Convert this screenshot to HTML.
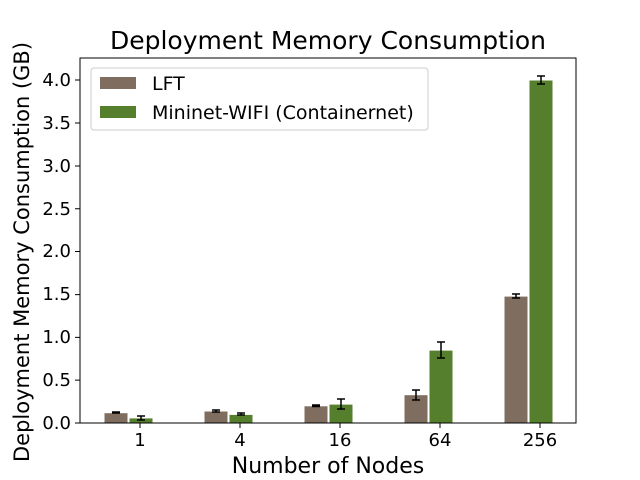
<!DOCTYPE html>
<html><head><style>body{margin:0;background:#fff}svg{display:block;font-family:"DejaVu Sans","Liberation Sans",sans-serif}</style></head><body>
<svg width="640" height="480" xmlns="http://www.w3.org/2000/svg">
<text x="328" y="49" font-size="25" text-anchor="middle">Deployment Memory Consumption</text>
<g fill="#7f6d5f" stroke="#fff" stroke-width="1">
<rect x="104" y="412.7" width="24" height="10.3"/>
<rect x="204" y="411" width="24" height="12"/>
<rect x="304" y="405.8" width="24" height="17.2"/>
<rect x="404" y="394.7" width="24" height="28.3"/>
<rect x="504" y="296.1" width="24" height="126.9"/>
</g>
<g fill="#557f2d" stroke="#fff" stroke-width="1">
<rect x="129" y="417.9" width="24" height="5.1"/>
<rect x="229" y="414.4" width="24" height="8.6"/>
<rect x="329" y="404.1" width="24" height="18.9"/>
<rect x="429" y="350.1" width="24" height="72.9"/>
<rect x="529" y="80" width="24" height="343"/>
</g>
<g stroke="#000" stroke-width="1.5" fill="none">
<path d="M116 412v1M112 412h8M112 413h8"/>
<path d="M141 416v4M137 416h8M137 420h8"/>
<path d="M216 410v2M212 410h8M212 412h8"/>
<path d="M241 413v2M237 413h8M237 415h8"/>
<path d="M316 405v1.5M312 405h8M312 406.5h8"/>
<path d="M341 399v10M337 399h8M337 409h8"/>
<path d="M416 390v10M412 390h8M412 400h8"/>
<path d="M441 342v16M437 342h8M437 358h8"/>
<path d="M516 294v4M512 294h8M512 298h8"/>
<path d="M541 76v8M537 76h8M537 84h8"/>
</g>
<rect x="80" y="58" width="496" height="365" fill="none" stroke="#000" stroke-width="1"/>
<g stroke="#000" stroke-width="1">
<path d="M80 423h-5M80 380.1h-5M80 337.4h-5M80 294.6h-5M80 251.5h-5M80 208.8h-5M80 166h-5M80 123h-5M80 80h-5"/>
<path d="M140 423v5M240 423v5M340 423v5M440 423v5M540 423v5"/>
</g>
<g font-size="18" text-anchor="end">
<text x="71" y="429">0.0</text><text x="71" y="386">0.5</text><text x="71" y="343">1.0</text><text x="71" y="300">1.5</text><text x="71" y="257">2.0</text><text x="71" y="215">2.5</text><text x="71" y="172">3.0</text><text x="71" y="129">3.5</text><text x="71" y="86">4.0</text>
</g>
<g font-size="18" text-anchor="middle">
<text x="140" y="446">1</text><text x="240" y="446">4</text><text x="340" y="446">16</text><text x="440" y="446">64</text><text x="540" y="446">256</text>
</g>
<text x="328" y="473" font-size="22" text-anchor="middle">Number of Nodes</text>
<text transform="translate(29,252) rotate(-90)" font-size="21" text-anchor="middle">Deployment Memory Consumption (GB)</text>
<rect x="91" y="68" width="337" height="62" rx="3" fill="#fff" fill-opacity="0.8" stroke="#ccc"/>
<rect x="100" y="77" width="36" height="12" fill="#7f6d5f"/>
<rect x="100" y="106" width="36" height="12" fill="#557f2d"/>
<text x="152" y="90" font-size="19">LFT</text>
<text x="152" y="119" font-size="19">Mininet-WIFI (Containernet)</text>
</svg>
</body></html>
